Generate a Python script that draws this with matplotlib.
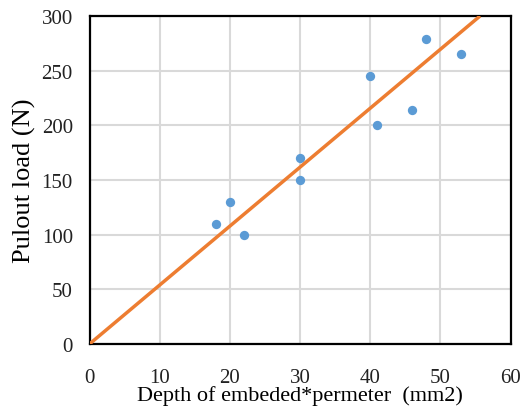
import matplotlib.pyplot as plt

# Data
depth = [18, 20, 22, 30, 30, 40, 41, 46, 48, 53]
load = [110, 130, 100, 170, 150, 245, 200, 214, 279, 265]
trend_slope = 5.39  # trendline through origin

plt.rcParams['font.family'] = ['Liberation Serif', 'DejaVu Serif']

fig = plt.figure(figsize=(5.32, 4.10), dpi=100)
ax = fig.add_axes([89.5 / 532, 1 - 345 / 410, 421 / 532, 328 / 410])

ax.grid(True, color='#d9d9d9', linewidth=1.5, zorder=0)
ax.set_axisbelow(True)

ax.scatter(depth, load, s=45, color='#5b9bd5', zorder=3, linewidths=0)
x_end = 300 / trend_slope
ax.plot([0, x_end], [0, trend_slope * x_end], color='#ed7d31', linewidth=2.5, zorder=4,
        solid_capstyle='butt')

ax.set_xlim(0, 60)
ax.set_ylim(0, 300)
ax.set_xticks(range(0, 61, 10))
ax.set_yticks(range(0, 301, 50))
ax.tick_params(length=0, labelsize=15, colors='#222222')
ax.tick_params(axis='x', pad=17)
ax.tick_params(axis='y', pad=12)

for s in ax.spines.values():
    s.set_linewidth(1.6)
    s.set_color('black')

ax.set_xlabel('Depth of embeded*permeter  (mm2)', fontsize=16, labelpad=-1)
ax.set_ylabel('Pulout load (N)', fontsize=19, labelpad=4)

fig.savefig('out.png', dpi=100)
